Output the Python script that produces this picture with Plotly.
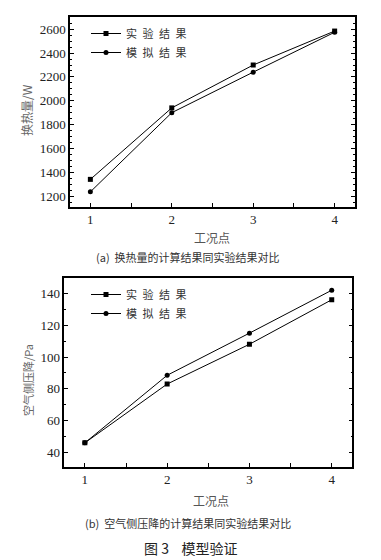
import plotly.graph_objects as go

# ---- data ----
cases = [1, 2, 3, 4]
heat_exp = [1340, 1940, 2300, 2585]
heat_sim = [1235, 1900, 2240, 2575]
dp_exp = [46, 83, 108, 136]
dp_sim = [46, 88.5, 115, 142]
series_names = ["实\u2002验\u2002结\u2002果", "模\u2002拟\u2002结\u2002果"]

W, H = 381, 560
def px(x): return x / W
def py(y): return 1 - y / H

serif = "Times New Roman"
cjk = "Noto Sans CJK SC"

fig = go.Figure()
line = dict(color="black", width=1)
fig.add_trace(go.Scatter(x=cases, y=heat_exp, mode="lines+markers", name=series_names[0],
                         line=line, marker=dict(symbol="square", size=5, color="black"),
                         xaxis="x", yaxis="y", legend="legend"))
fig.add_trace(go.Scatter(x=cases, y=heat_sim, mode="lines+markers", name=series_names[1],
                         line=line, marker=dict(symbol="circle", size=5, color="black"),
                         xaxis="x", yaxis="y", legend="legend"))
fig.add_trace(go.Scatter(x=cases, y=dp_exp, mode="lines+markers", name=series_names[0],
                         line=line, marker=dict(symbol="square", size=5, color="black"),
                         xaxis="x2", yaxis="y2", legend="legend2"))
fig.add_trace(go.Scatter(x=cases, y=dp_sim, mode="lines+markers", name=series_names[1],
                         line=line, marker=dict(symbol="circle", size=5, color="black"),
                         xaxis="x2", yaxis="y2", legend="legend2"))

def xax(domain, anchor):
    return dict(domain=domain, anchor=anchor, range=[0.75, 4.25], tickvals=cases,
                ticks="inside", ticklen=4, tickwidth=1, tickcolor="black",
                minor=dict(dtick=0.5, tick0=0.5, ticks="inside", ticklen=4, tickcolor="black"),
                showline=True, linecolor="black", linewidth=1.5, mirror=True,
                showgrid=False, zeroline=False,
                tickfont=dict(family=serif, size=13, color="#222"))

def yax(domain, anchor, rng, dtick, mdtick):
    return dict(domain=domain, anchor=anchor, range=rng, dtick=dtick,
                ticks="inside", ticklen=4, tickwidth=1, tickcolor="black",
                minor=dict(dtick=mdtick, ticks="inside", ticklen=2, tickcolor="black"),
                showline=True, linecolor="black", linewidth=1.5, mirror="ticks",
                showgrid=False, zeroline=False,
                tickfont=dict(family=serif, size=13, color="#222"))

legend_common = dict(font=dict(family=cjk, size=11, color="#333"), bgcolor="rgba(0,0,0,0)",
                     borderwidth=0, itemwidth=30, xanchor="left", yanchor="top",
                     tracegroupgap=0)

fig.update_layout(
    width=W, height=H, margin=dict(l=0, r=0, t=0, b=0),
    paper_bgcolor="white", plot_bgcolor="white",
    font=dict(family=serif),
    xaxis=xax([px(70), px(355)], "y"),
    yaxis=yax([py(207), py(17)], "x", [1108, 2703], 200, 50),
    xaxis2=xax([px(64.3), px(352.3)], "y2"),
    yaxis2=yax([py(466.7), py(277.5)], "x2", [31, 150], 20, 10),
    legend=dict(x=px(86), y=py(19), **legend_common),
    legend2=dict(x=px(86), y=py(280), **legend_common),
    showlegend=True,
)

ann = [
    dict(text="换热量/W", x=px(27), y=py(110), textangle=-90, font=dict(family=cjk, size=12, color="#666")),
    dict(text="工况点", x=px(212), y=py(237), font=dict(family=cjk, size=12, color="#555")),
    dict(text="(a)  换热量的计算结果同实验结果对比", x=px(188), y=py(257), font=dict(family=cjk, size=11, color="#333")),
    dict(text="空气侧压降/Pa", x=px(28), y=py(380), textangle=-90, font=dict(family=cjk, size=11, color="#666")),
    dict(text="工况点", x=px(211), y=py(500), font=dict(family=cjk, size=12, color="#555")),
    dict(text="(b)  空气侧压降的计算结果同实验结果对比", x=px(188), y=py(523), font=dict(family=cjk, size=11, color="#333")),
    dict(text="图 3    模型验证", x=px(190), y=py(548), font=dict(family=cjk, size=14, color="#222")),
]
for a in ann:
    a.update(xref="paper", yref="paper", showarrow=False, xanchor="center", yanchor="middle")
fig.update_layout(annotations=ann)

fig.write_html("out.html", config={"displayModeBar": False},
               post_script="document.body.style.margin='0';")
